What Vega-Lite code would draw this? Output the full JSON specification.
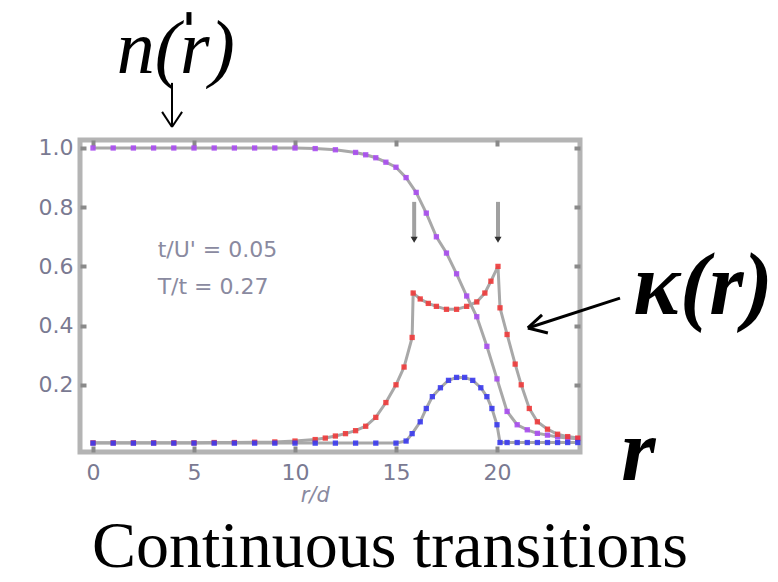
{
  "$schema": "https://vega.github.io/schema/vega-lite/v6.json",
  "width": 500,
  "height": 312,
  "autosize": {"type": "none"},
  "padding": {"left": 80, "top": 140, "right": 198, "bottom": 130},
  "background": "white",
  "view": {"stroke": "#b4b4b4", "strokeWidth": 5},
  "config": {
    "axis": {"grid": false, "domain": false, "ticks": true, "tickColor": "#8a8a8a", "tickWidth": 4, "tickSize": -6, "labelFont": "DejaVu Sans", "labelFontSize": 22, "labelColor": "#7a7a92"}
  },
  "datasets": {
    "curves": [
      {"s": "n", "x": 0, "y": 1.0}, {"s": "n", "x": 1, "y": 1.0}, {"s": "n", "x": 2, "y": 1.0}, {"s": "n", "x": 3, "y": 1.0},
      {"s": "n", "x": 4, "y": 1.0}, {"s": "n", "x": 5, "y": 1.0}, {"s": "n", "x": 6, "y": 1.0}, {"s": "n", "x": 7, "y": 1.0},
      {"s": "n", "x": 8, "y": 1.0}, {"s": "n", "x": 9, "y": 1.0}, {"s": "n", "x": 10, "y": 1.0}, {"s": "n", "x": 11, "y": 0.998},
      {"s": "n", "x": 12, "y": 0.994}, {"s": "n", "x": 13, "y": 0.985}, {"s": "n", "x": 13.5, "y": 0.977}, {"s": "n", "x": 14, "y": 0.967},
      {"s": "n", "x": 14.5, "y": 0.952}, {"s": "n", "x": 15, "y": 0.935}, {"s": "n", "x": 15.5, "y": 0.9}, {"s": "n", "x": 16, "y": 0.85},
      {"s": "n", "x": 16.5, "y": 0.78}, {"s": "n", "x": 17, "y": 0.7}, {"s": "n", "x": 17.5, "y": 0.645}, {"s": "n", "x": 18, "y": 0.575},
      {"s": "n", "x": 18.5, "y": 0.5}, {"s": "n", "x": 19, "y": 0.43}, {"s": "n", "x": 19.5, "y": 0.33}, {"s": "n", "x": 20, "y": 0.22},
      {"s": "n", "x": 20.5, "y": 0.11}, {"s": "n", "x": 21, "y": 0.065}, {"s": "n", "x": 21.5, "y": 0.048}, {"s": "n", "x": 22, "y": 0.036},
      {"s": "n", "x": 22.5, "y": 0.03}, {"s": "n", "x": 23, "y": 0.024}, {"s": "n", "x": 23.5, "y": 0.02}, {"s": "n", "x": 24, "y": 0.018},

      {"s": "k", "x": 0, "y": 0.004}, {"s": "k", "x": 1, "y": 0.004}, {"s": "k", "x": 2, "y": 0.004}, {"s": "k", "x": 3, "y": 0.004},
      {"s": "k", "x": 4, "y": 0.004}, {"s": "k", "x": 5, "y": 0.004}, {"s": "k", "x": 6, "y": 0.005}, {"s": "k", "x": 7, "y": 0.005},
      {"s": "k", "x": 8, "y": 0.006}, {"s": "k", "x": 9, "y": 0.007}, {"s": "k", "x": 10, "y": 0.01}, {"s": "k", "x": 11, "y": 0.015},
      {"s": "k", "x": 11.5, "y": 0.02}, {"s": "k", "x": 12, "y": 0.027}, {"s": "k", "x": 12.5, "y": 0.035}, {"s": "k", "x": 13, "y": 0.045},
      {"s": "k", "x": 13.5, "y": 0.06}, {"s": "k", "x": 14, "y": 0.09}, {"s": "k", "x": 14.5, "y": 0.14}, {"s": "k", "x": 15, "y": 0.2},
      {"s": "k", "x": 15.4, "y": 0.26}, {"s": "k", "x": 15.8, "y": 0.36}, {"s": "k", "x": 15.85, "y": 0.51}, {"s": "k", "x": 16.2, "y": 0.49},
      {"s": "k", "x": 16.6, "y": 0.475}, {"s": "k", "x": 17, "y": 0.465}, {"s": "k", "x": 17.5, "y": 0.455}, {"s": "k", "x": 18, "y": 0.455},
      {"s": "k", "x": 18.5, "y": 0.465}, {"s": "k", "x": 19, "y": 0.48}, {"s": "k", "x": 19.4, "y": 0.51}, {"s": "k", "x": 19.7, "y": 0.55},
      {"s": "k", "x": 20.05, "y": 0.6}, {"s": "k", "x": 20.15, "y": 0.46}, {"s": "k", "x": 20.5, "y": 0.37}, {"s": "k", "x": 20.9, "y": 0.27},
      {"s": "k", "x": 21.2, "y": 0.2}, {"s": "k", "x": 21.6, "y": 0.12}, {"s": "k", "x": 22, "y": 0.075}, {"s": "k", "x": 22.5, "y": 0.05},
      {"s": "k", "x": 23, "y": 0.033}, {"s": "k", "x": 23.5, "y": 0.025}, {"s": "k", "x": 24, "y": 0.02},

      {"s": "b", "x": 0, "y": 0.003}, {"s": "b", "x": 1, "y": 0.003}, {"s": "b", "x": 2, "y": 0.003}, {"s": "b", "x": 3, "y": 0.003},
      {"s": "b", "x": 4, "y": 0.003}, {"s": "b", "x": 5, "y": 0.003}, {"s": "b", "x": 6, "y": 0.003}, {"s": "b", "x": 7, "y": 0.003},
      {"s": "b", "x": 8, "y": 0.003}, {"s": "b", "x": 9, "y": 0.003}, {"s": "b", "x": 10, "y": 0.003}, {"s": "b", "x": 11, "y": 0.003},
      {"s": "b", "x": 12, "y": 0.003}, {"s": "b", "x": 13, "y": 0.003}, {"s": "b", "x": 14, "y": 0.003}, {"s": "b", "x": 15, "y": 0.003},
      {"s": "b", "x": 15.5, "y": 0.01}, {"s": "b", "x": 15.8, "y": 0.035}, {"s": "b", "x": 16.2, "y": 0.075}, {"s": "b", "x": 16.5, "y": 0.12},
      {"s": "b", "x": 16.8, "y": 0.16}, {"s": "b", "x": 17.2, "y": 0.19}, {"s": "b", "x": 17.6, "y": 0.215}, {"s": "b", "x": 18, "y": 0.225},
      {"s": "b", "x": 18.4, "y": 0.225}, {"s": "b", "x": 18.8, "y": 0.215}, {"s": "b", "x": 19.2, "y": 0.19}, {"s": "b", "x": 19.5, "y": 0.16},
      {"s": "b", "x": 19.75, "y": 0.12}, {"s": "b", "x": 20, "y": 0.065}, {"s": "b", "x": 20.15, "y": 0.005}, {"s": "b", "x": 20.5, "y": 0.005},
      {"s": "b", "x": 21, "y": 0.005}, {"s": "b", "x": 21.5, "y": 0.005}, {"s": "b", "x": 22, "y": 0.005}, {"s": "b", "x": 22.5, "y": 0.005},
      {"s": "b", "x": 23, "y": 0.005}, {"s": "b", "x": 23.5, "y": 0.005}, {"s": "b", "x": 24, "y": 0.005}
    ],
    "vArrows": [
      {"x": 15.9, "y": 0.818, "y2": 0.69},
      {"x": 20.05, "y": 0.818, "y2": 0.69}
    ],
    "blackLines": [
      {"x": 3.91, "y": 1.22, "x2": 3.91, "y2": 1.071, "w": 2},
      {"x": 3.42, "y": 1.122, "x2": 3.91, "y2": 1.071, "w": 2},
      {"x": 4.41, "y": 1.122, "x2": 3.91, "y2": 1.071, "w": 2},
      {"x": 4.75, "y": 1.459, "x2": 4.75, "y2": 1.416, "w": 5},
      {"x": 26.09, "y": 0.493, "x2": 21.53, "y2": 0.392, "w": 3},
      {"x": 22.23, "y": 0.436, "x2": 21.53, "y2": 0.392, "w": 3},
      {"x": 22.52, "y": 0.375, "x2": 21.53, "y2": 0.392, "w": 3}
    ]
  },
  "layer": [
    {
      "data": {"name": "curves"},
      "mark": {"type": "line", "color": "#a8a8a8", "strokeWidth": 3},
      "encoding": {
        "x": {"field": "x", "type": "quantitative", "scale": {"domain": [-0.644, 24.11], "nice": false, "zero": false},
              "axis": {"orient": "bottom", "values": [0, 5, 10, 15, 20], "title": null, "labelPadding": 16}},
        "y": {"field": "y", "type": "quantitative", "scale": {"domain": [-0.027, 1.027], "nice": false, "zero": false},
              "axis": {"orient": "left", "values": [0.2, 0.4, 0.6, 0.8, 1.0], "format": ".1f", "title": null, "labelPadding": 13}},
        "detail": {"field": "s"}
      }
    },
    {
      "data": {"name": "curves"},
      "mark": {"type": "point", "shape": "square", "filled": true, "size": 28, "opacity": 0.9},
      "encoding": {
        "x": {"field": "x", "type": "quantitative", "axis": null},
        "y": {"field": "y", "type": "quantitative", "axis": null},
        "color": {"field": "s", "type": "nominal", "scale": {"domain": ["n", "k", "b"], "range": ["#a84cf0", "#ee3a3a", "#3a3aee"]}, "legend": null}
      }
    },
    {
      "data": {"name": "vArrows"},
      "mark": {"type": "rule", "color": "#a0a0a0", "strokeWidth": 4},
      "encoding": {
        "x": {"field": "x", "type": "quantitative", "axis": {"orient": "top", "values": [0, 5, 10, 15, 20], "labels": false, "title": null}},
        "y": {"field": "y", "type": "quantitative", "axis": {"orient": "right", "values": [0.2, 0.4, 0.6, 0.8, 1.0], "labels": false, "title": null}},
        "y2": {"field": "y2"}
      }
    },
    {
      "data": {"name": "vArrows"},
      "mark": {"type": "point", "shape": "triangle-down", "filled": true, "color": "#303030", "size": 50, "opacity": 1},
      "encoding": {
        "x": {"field": "x", "type": "quantitative", "axis": null},
        "y": {"field": "y2", "type": "quantitative", "axis": null}
      }
    },
    {
      "data": {"name": "blackLines"},
      "mark": {"type": "rule", "color": "black", "clip": false},
      "encoding": {
        "x": {"field": "x", "type": "quantitative", "axis": null},
        "y": {"field": "y", "type": "quantitative", "axis": null},
        "x2": {"field": "x2"},
        "y2": {"field": "y2"},
        "strokeWidth": {"field": "w", "type": "quantitative", "scale": null}
      }
    },
    {
      "data": {"values": [{"x": 3.2, "y": 0.655, "t": "t/U' = 0.05"}, {"x": 3.2, "y": 0.53, "t": "T/t = 0.27"}]},
      "mark": {"type": "text", "align": "left", "baseline": "middle", "font": "DejaVu Sans", "fontSize": 22, "color": "#8a8aa0"},
      "encoding": {
        "x": {"field": "x", "type": "quantitative", "axis": null},
        "y": {"field": "y", "type": "quantitative", "axis": null},
        "text": {"field": "t"}
      }
    },
    {
      "data": {"values": [{"x": 11.0, "y": -0.175, "t": "r/d"}]},
      "mark": {"type": "text", "align": "center", "baseline": "middle", "font": "DejaVu Sans", "fontSize": 21, "fontStyle": "italic", "color": "#8a8aa0"},
      "encoding": {
        "x": {"field": "x", "type": "quantitative", "axis": null},
        "y": {"field": "y", "type": "quantitative", "axis": null},
        "text": {"field": "t"}
      }
    },
    {
      "data": {"values": [{"x": 4.1, "y": 1.33, "t": "n(r)"}]},
      "mark": {"type": "text", "align": "center", "baseline": "middle", "font": "Liberation Serif", "fontSize": 76, "fontStyle": "italic", "color": "black"},
      "encoding": {
        "x": {"field": "x", "type": "quantitative", "axis": null},
        "y": {"field": "y", "type": "quantitative", "axis": null},
        "text": {"field": "t"}
      }
    },
    {
      "data": {"values": [{"x": 30.2, "y": 0.527, "t": "κ(r)"}, {"x": 27.0, "y": -0.035, "t": "r"}]},
      "mark": {"type": "text", "align": "center", "baseline": "middle", "font": "Liberation Serif", "fontSize": 88, "fontStyle": "italic", "fontWeight": "bold", "color": "black"},
      "encoding": {
        "x": {"field": "x", "type": "quantitative", "axis": null},
        "y": {"field": "y", "type": "quantitative", "axis": null},
        "text": {"field": "t"}
      }
    },
    {
      "data": {"values": [{"x": 14.7, "y": -0.416, "t": "Continuous transitions"}]},
      "mark": {"type": "text", "align": "center", "baseline": "alphabetic", "font": "Liberation Serif", "fontSize": 66, "color": "black"},
      "encoding": {
        "x": {"field": "x", "type": "quantitative", "axis": null},
        "y": {"field": "y", "type": "quantitative", "axis": null},
        "text": {"field": "t"}
      }
    }
  ],
  "resolve": {"axis": {"x": "independent", "y": "independent"}}
}
